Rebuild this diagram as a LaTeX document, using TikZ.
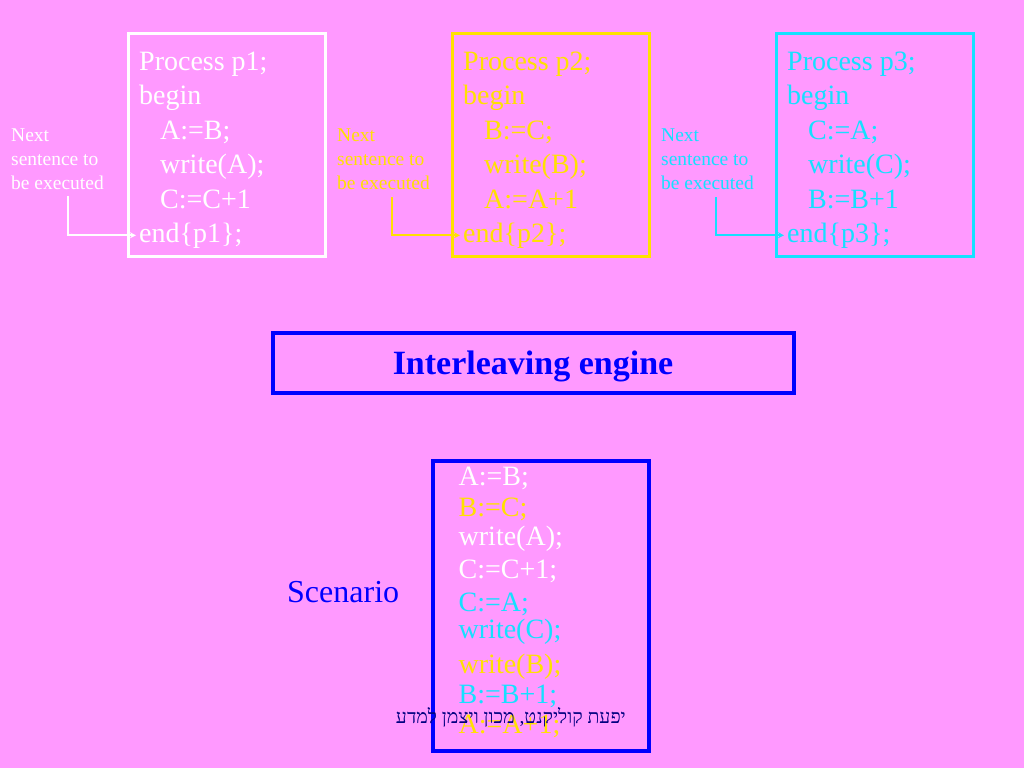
\documentclass[tikz,border=0pt]{standalone}
\usepackage{fontspec}
\setmainfont{Liberation Serif}
\newfontfamily\hebfont[Script=Hebrew]{Liberation Serif}
\TeXXeTstate=1
\usetikzlibrary{arrows.meta}
\definecolor{bgpink}{RGB}{255,153,255}
\definecolor{pyellow}{RGB}{255,225,0}
\definecolor{pcyan}{RGB}{20,225,255}
\definecolor{pblue}{RGB}{0,0,255}
\definecolor{pnavy}{RGB}{0,0,128}
\tikzset{
  procbox/.style={draw=#1, line width=3pt, minimum width=197pt, minimum height=222pt, anchor=north west, inner sep=0pt, outer sep=0pt},
  codeline/.style={text=#1, anchor=base west, inner sep=0pt, font=\fontsize{28}{34}\selectfont},
  nextlbl/.style={text=#1, anchor=base west, inner sep=0pt, font=\fontsize{19.5}{24}\selectfont},
  conn/.style={draw=#1, line width=2.2pt, -{Stealth[length=6pt,width=6pt]}, shorten >=3pt},
  bluebox/.style={draw=pblue, line width=4pt, anchor=north west, inner sep=0pt, outer sep=0pt}
}
\begin{document}
\begin{tikzpicture}[x=1pt,y=-1pt]
\fill[bgpink] (0,0) rectangle (1024,768);
\useasboundingbox (0,0) rectangle (1024,768);

% ---- process 1 (white)
\node[procbox=white] (b1) at (128,34) {};
\node[codeline=white] (p1a) at (139,70.5) {Process p1;};
\node[codeline=white] (p1b) at (139,104.9) {begin};
\node[codeline=white] (p1c) at (160,139.3) {A:=B;};
\node[codeline=white] (p1d) at (160,173.7) {write(A);};
\node[codeline=white] (p1e) at (160,208.1) {C:=C+1};
\node[codeline=white] (p1f) at (139,242) {end\{p1\};};
\node[nextlbl=white] (n1a) at (11,141) {Next};
\node[nextlbl=white] (n1b) at (11,165) {sentence to};
\node[nextlbl=white] (n1c) at (11,189) {be executed};
\coordinate (c1) at (68,196);
\draw[conn=white] (c1) |- (p1f.west);

% ---- process 2 (yellow)
\node[procbox=pyellow] (b2) at (452.5,34) {};
\node[codeline=pyellow] (p2a) at (463,70.5) {Process p2;};
\node[codeline=pyellow] (p2b) at (463,104.9) {begin};
\node[codeline=pyellow] (p2c) at (484,139.3) {B:=C;};
\node[codeline=pyellow] (p2d) at (484,173.7) {write(B);};
\node[codeline=pyellow] (p2e) at (484,208.1) {A:=A+1};
\node[codeline=pyellow] (p2f) at (463,242) {end\{p2\};};
\node[nextlbl=pyellow] (n2a) at (337,141) {Next};
\node[nextlbl=pyellow] (n2b) at (337,165) {sentence to};
\node[nextlbl=pyellow] (n2c) at (337,189) {be executed};
\coordinate (c2) at (392,197);
\draw[conn=pyellow] (c2) |- (p2f.west);

% ---- process 3 (cyan)
\node[procbox=pcyan] (b3) at (776.5,34) {};
\node[codeline=pcyan] (p3a) at (787,70.5) {Process p3;};
\node[codeline=pcyan] (p3b) at (787,104.9) {begin};
\node[codeline=pcyan] (p3c) at (808,139.3) {C:=A;};
\node[codeline=pcyan] (p3d) at (808,173.7) {write(C);};
\node[codeline=pcyan] (p3e) at (808,208.1) {B:=B+1};
\node[codeline=pcyan] (p3f) at (787,242) {end\{p3\};};
\node[nextlbl=pcyan] (n3a) at (661,141) {Next};
\node[nextlbl=pcyan] (n3b) at (661,165) {sentence to};
\node[nextlbl=pcyan] (n3c) at (661,189) {be executed};
\coordinate (c3) at (716,197);
\draw[conn=pcyan] (c3) |- (p3f.west);

% ---- interleaving engine
\node[bluebox, minimum width=521pt, minimum height=60pt] (eng) at (272.5,332.5) {};
\node[text=pblue, font=\fontsize{34}{40}\selectfont\bfseries] (engt) at ([yshift=-3.5pt]eng.center) {Interleaving engine};

% ---- scenario
\node[bluebox, minimum width=216pt, minimum height=290pt] (sc) at (433,461) {};
\node[text=pblue, anchor=base west, inner sep=0pt, font=\fontsize{32}{38}\selectfont] (scl) at (287,602) {Scenario};
\node[codeline=white] (s1) at (458.5,485) {A:=B;};
\node[codeline=pyellow] (s2) at (458.5,516.5) {B:=C;};
\node[codeline=white] (s3) at (458.5,545) {write(A);};
\node[codeline=white] (s4) at (458.5,578.3) {C:=C+1;};
\node[codeline=pcyan] (s5) at (458.5,611.7) {C:=A;};
\node[codeline=pcyan] (s6) at (458.5,638.3) {write(C);};
\node[codeline=pyellow] (s7) at (458.5,673.3) {write(B);};
\node[codeline=pcyan] (s8) at (458.5,703.3) {B:=B+1;};
\node[codeline=pyellow] (s9) at (458.5,733.3) {A:=A+1;};

% ---- footer
\node[text=pnavy, anchor=base east, inner sep=0pt, font=\fontsize{19.5}{23}\selectfont\hebfont] (foot) at (626,723) {\beginR יפעת קוליקנט, מכון ויצמן למדע\endR};
\end{tikzpicture}
\end{document}
